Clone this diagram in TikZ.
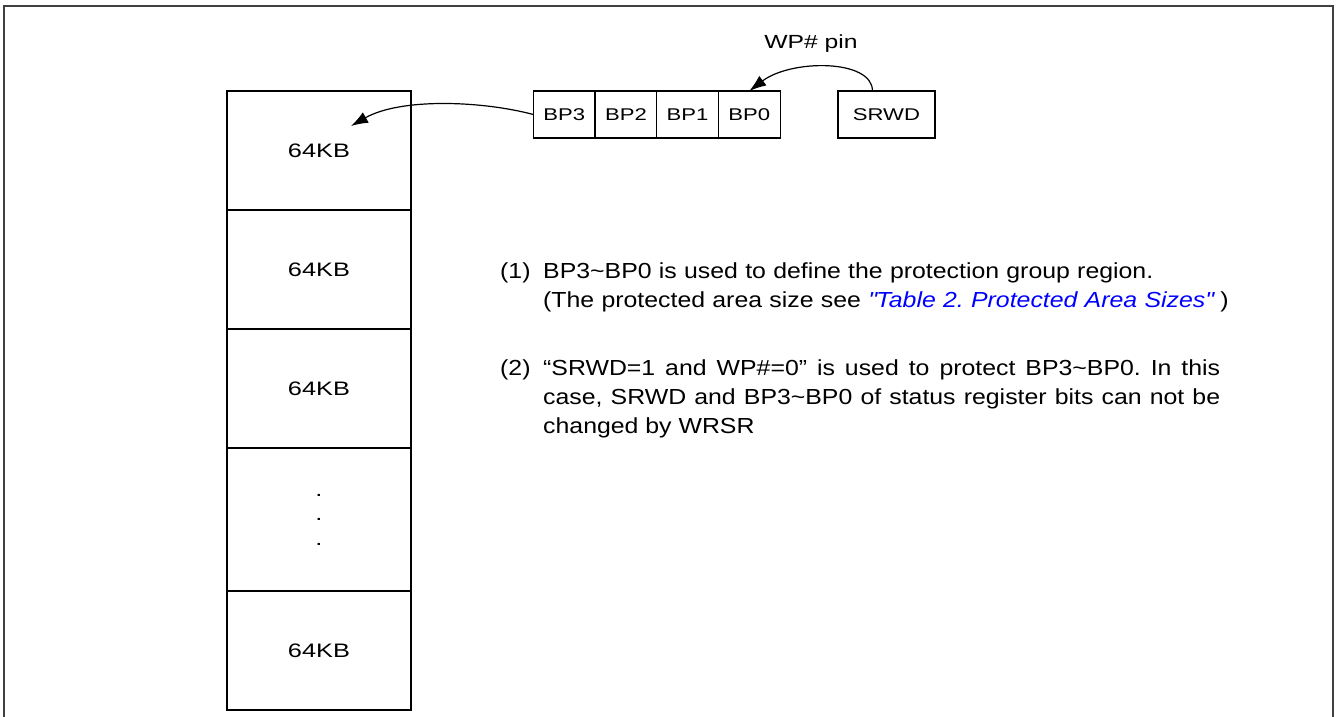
\documentclass[tikz,border=0pt]{standalone}
\usepackage{fontspec}
\setmainfont{Liberation Sans}[FakeStretch=1.14]
\newfontfamily\lblfont{Liberation Sans}[FakeStretch=1.3]
\usetikzlibrary{positioning,arrows.meta}
\definecolor{linkblue}{HTML}{0000FF}
\definecolor{framegray}{HTML}{404040}
\newcommand{\tld}{\textasciitilde}
\hyphenpenalty=10000
\frenchspacing

\begin{document}
\begin{tikzpicture}[x=1pt,y=-1pt,
  blk/.style={draw,line width=1.2pt,minimum width=184pt,minimum height=119pt,
    inner sep=0pt,outer sep=0pt,font=\lblfont\fontsize{19.5}{24.5}\selectfont},
  bit/.style={draw,line width=1.2pt,minimum width=61.7pt,minimum height=47pt,
    inner sep=0pt,outer sep=0pt,font=\lblfont\fontsize{17}{20}\selectfont},
  link/.style={line width=1.2pt,-{Latex[length=17pt,width=12pt]}},
  note/.style={anchor=base west,inner sep=0pt,
    font=\fontsize{21.8}{29}\selectfont}]
  \useasboundingbox (0,0) rectangle (1336,717);
  \draw[framegray,line width=2pt] (4,6) rectangle (1333,740);

  % memory blocks
  \node[blk] (m1) at (319,150.5) {64KB};
  \node[blk,below=0pt of m1] (m2) {64KB};
  \node[blk,below=0pt of m2] (m3) {64KB};
  \node[blk,below=0pt of m3,minimum height=143pt,align=center] (m4) {.\\.\\.};
  \node[blk,below=0pt of m4] (m5) {64KB};

  % status register bits
  \node[bit] (bp3) at (564.2,114.5) {BP3};
  \node[bit,right=0pt of bp3] (bp2) {BP2};
  \node[bit,right=0pt of bp2] (bp1) {BP1};
  \node[bit,right=0pt of bp1] (bp0) {BP0};
  \node[bit,minimum width=97pt] (srwd) at (886.5,114.5) {SRWD};
  \node[font=\lblfont\fontsize{19}{22}\selectfont] (wp) at (811,44) {WP\# pin};

  \coordinate (tip) at (351,126);
  \draw[link] (bp3.west) .. controls +(-53,-14) and +(49,-28) .. (tip);
  \draw[link] ([xshift=-14pt]srwd.north) .. controls +(0,-32) and +(42,-32) .. (bp0.north);

  % notes
  \node[note] (n1) at (500,278) {(1)};
  \node[note,text width=740pt,align=left] (t1) at (543,278)
    {BP3\tld BP0 is used to define the protection group region.\\
     (The protected area size see {\color{linkblue}\itshape \textquotedbl Table 2. Protected Area Sizes\textquotedbl} )};
  \node[note] (n2) at (500,375) {(2)};
  \node[note,text width=677pt,align=justify] (t2) at (543,375)
    {“SRWD=1 and WP\#=0” is used to protect BP3\tld BP0. In this case, SRWD and
     BP3\tld BP0 of status register bits can not be changed by WRSR};
\end{tikzpicture}
\end{document}
